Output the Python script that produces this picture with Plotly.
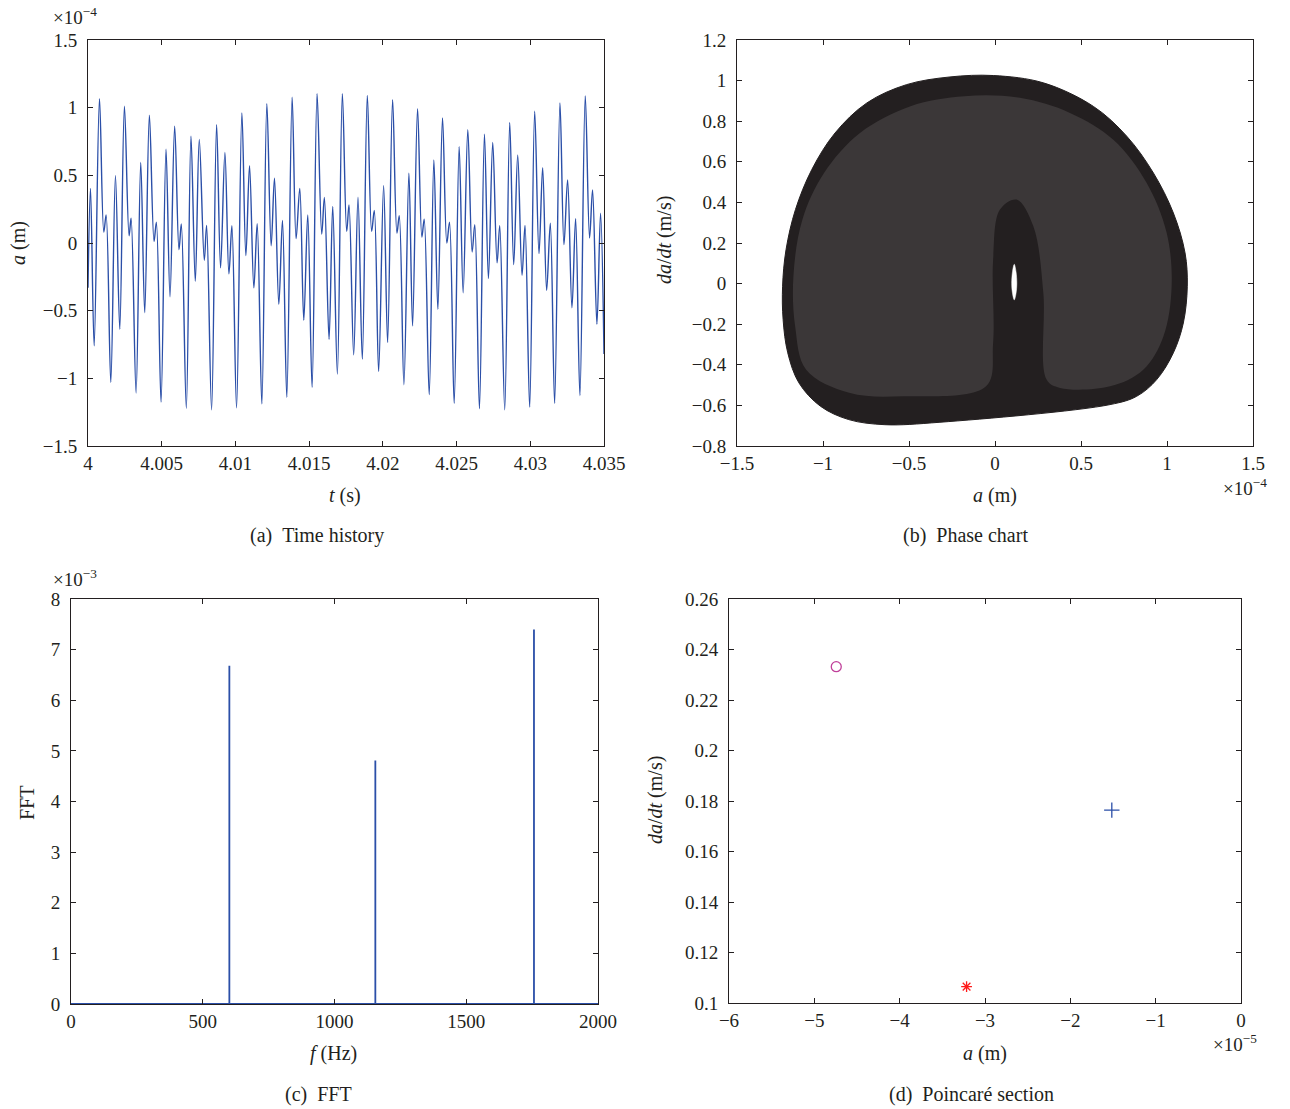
import plotly.graph_objects as go

# ---------------- (a) time history: extrema of a(t), a in units of 1e-4 m ----------------
t_hist = [4.000000, 4.000169, 4.000418, 4.000779, 4.001072, 4.001230, 4.001546, 4.001862,
          4.002155, 4.002471, 4.002787, 4.002923, 4.003261, 4.003577, 4.003848, 4.004164,
          4.004480, 4.004638, 4.004954, 4.005292, 4.005563, 4.005879, 4.006172, 4.006330,
          4.006669, 4.006985, 4.007278, 4.007549, 4.007888, 4.008045, 4.008384, 4.008723,
          4.008993, 4.009287, 4.009558, 4.009761, 4.010077, 4.010438, 4.010709, 4.010957,
          4.011250, 4.011476, 4.011792, 4.012131, 4.012424, 4.012649, 4.012943, 4.013191,
          4.013485, 4.013846, 4.014116, 4.014365, 4.014636, 4.014906, 4.015200, 4.015538,
          4.015854, 4.016035, 4.016351, 4.016599, 4.016915, 4.017253, 4.017547, 4.017705,
          4.018021, 4.018314, 4.018607, 4.018946, 4.019240, 4.019420, 4.019713, 4.020052,
          4.020323, 4.020661, 4.020955, 4.021113, 4.021429, 4.021767, 4.022016, 4.022354,
          4.022647, 4.022805, 4.023144, 4.023460, 4.023731, 4.024047, 4.024340, 4.024521,
          4.024837, 4.025175, 4.025446, 4.025762, 4.026055, 4.026236, 4.026552, 4.026890,
          4.027161, 4.027454, 4.027748, 4.027928, 4.028267, 4.028605, 4.028876, 4.029147,
          4.029440, 4.029643, 4.029959, 4.030298, 4.030591, 4.030839, 4.031110, 4.031359,
          4.031652, 4.032013, 4.032284, 4.032532, 4.032826, 4.033074, 4.033367, 4.033729,
          4.034022, 4.034225, 4.034519, 4.034767, 4.035000]
a_hist = [-0.330, 0.404, -0.760, 1.066, 0.081, 0.208, -1.029, 0.498,
          -0.637, 1.010, 0.054, 0.184, -1.108, 0.596, -0.515, 0.944,
          0.012, 0.154, -1.176, 0.694, -0.397, 0.863, -0.049, 0.140,
          -1.221, 0.789, -0.282, 0.765, -0.127, 0.130, -1.233, 0.875,
          -0.184, 0.669, -0.228, 0.127, -1.218, 0.961, -0.093, 0.571,
          -0.331, 0.142, -1.189, 1.029, -0.020, 0.478, -0.453, 0.167,
          -1.140, 1.078, 0.032, 0.404, -0.571, 0.208, -1.066, 1.103,
          0.066, 0.336, -0.711, 0.270, -0.968, 1.103, 0.086, 0.282,
          -0.826, 0.338, -0.858, 1.091, 0.086, 0.240, -0.949, 0.424,
          -0.735, 1.059, 0.074, 0.201, -1.047, 0.515, -0.613, 0.993,
          0.044, 0.176, -1.120, 0.613, -0.490, 0.924, 0.000, 0.154,
          -1.184, 0.711, -0.368, 0.838, -0.066, 0.135, -1.225, 0.804,
          -0.262, 0.743, -0.147, 0.127, -1.233, 0.890, -0.159, 0.650,
          -0.238, 0.130, -1.213, 0.973, -0.078, 0.556, -0.350, 0.147,
          -1.184, 1.034, -0.012, 0.466, -0.478, 0.179, -1.127, 1.086,
          0.037, 0.392, -0.600, 0.221, -0.821]

# ---------------- (b) phase chart: envelope of the trajectory band (a in 1e-4 m, v in m/s) ----------------
phase_outer_a = [-0.010, 0.281, 0.572, 0.766, 0.921, 1.037, 1.105, 1.118, 1.095, 1.037,
                 0.940, 0.824, 0.669, -0.320, -0.640, -0.850, -1.015, -1.140, -1.205,
                 -1.232, -1.235, -1.215, -1.160, -1.065, -0.930, -0.745, -0.515, -0.262]
phase_outer_v = [1.025, 0.989, 0.873, 0.726, 0.545, 0.348, 0.151, -0.013, -0.194, -0.341,
                 -0.473, -0.555, -0.596, -0.683, -0.695, -0.670, -0.604, -0.489, -0.341,
                 -0.177, -0.013, 0.167, 0.365, 0.562, 0.742, 0.890, 0.980, 1.018]
# region where the individual loops are resolved (lighter, striped in print)
phase_loops_a = [-1.098, -1.162, -1.172, -1.120, -0.994, -0.785, -0.491, -0.178, 0.145, 0.436,
                 0.688, 0.882, 0.998, 1.027, 0.979, 0.862, 0.669, 0.378, 0.300, 0.281,
                 0.223, 0.126, 0.029, -0.011, -0.011, -0.052, -0.534, -0.848]
phase_loops_v = [-0.424, -0.210, 0.036, 0.315, 0.545, 0.742, 0.874, 0.923, 0.915, 0.841,
                 0.709, 0.496, 0.250, -0.013, -0.260, -0.424, -0.506, -0.514, -0.473, -0.046,
                 0.282, 0.414, 0.365, 0.118, -0.292, -0.506, -0.555, -0.538]
phase_hole_a = [0.112, 0.122, 0.127, 0.122, 0.112, 0.102, 0.097, 0.102]
phase_hole_v = [0.095, 0.060, 0.000, -0.050, -0.080, -0.050, 0.000, 0.060]

# ---------------- (c) FFT peaks ----------------
fft_freq = [601, 1155, 1757]
fft_amp = [6.68, 4.81, 7.40]          # units of 1e-3
fft_fmax = 2000

# ---------------- (d) Poincaré section points ----------------
poin_a = [-4.743, -3.216, -1.514]      # units of 1e-5 m
poin_v = [0.2332, 0.1065, 0.1764]

INK = "#231f20"
LOOPS = "#3b3738"
BLUE = "#2b4fa8"
FONT = "Liberation Serif"
W, H = 1290, 1109


def px(x):
    return x / W


def py(y):
    return 1 - y / H


fig = go.Figure()

fig.add_trace(go.Scatter(x=t_hist, y=a_hist, mode="lines", line=dict(color=BLUE, width=1.4, shape="spline"),
                         xaxis="x", yaxis="y", showlegend=False))


def closed(xs, ys):
    return xs + xs[:1], ys + ys[:1]


ox, oy = closed(phase_outer_a, phase_outer_v)
fig.add_trace(go.Scatter(x=ox, y=oy, mode="lines", fill="toself", fillcolor=INK,
                         line=dict(color=INK, width=1, shape="spline"),
                         xaxis="x2", yaxis="y2", showlegend=False))
lx, ly = closed(phase_loops_a, phase_loops_v)
fig.add_trace(go.Scatter(x=lx, y=ly, mode="lines", fill="toself", fillcolor=LOOPS,
                         line=dict(color=LOOPS, width=0, shape="spline", smoothing=1.0),
                         xaxis="x2", yaxis="y2", showlegend=False))
hx, hy = closed(phase_hole_a, phase_hole_v)
fig.add_trace(go.Scatter(x=hx, y=hy, mode="lines", fill="toself", fillcolor="white",
                         line=dict(color="white", width=0.5, shape="spline"),
                         xaxis="x2", yaxis="y2", showlegend=False))

# spectrum: zero baseline with a vertical line at every peak
spec_x, spec_y = [0], [0]
for f, amp in zip(fft_freq, fft_amp):
    spec_x += [f, f, f]
    spec_y += [0, amp, 0]
spec_x.append(fft_fmax)
spec_y.append(0)
fig.add_trace(go.Scatter(x=spec_x, y=spec_y, mode="lines", line=dict(color=BLUE, width=1.8),
                         xaxis="x3", yaxis="y3", showlegend=False))

poin_symbols = ["circle-open", "asterisk-open", "cross-thin-open"]
poin_colors = ["#c0409a", "#ff1a1a", BLUE]
poin_sizes = [10, 9, 11]
for a, v, s, c, sz in zip(poin_a, poin_v, poin_symbols, poin_colors, poin_sizes):
    fig.add_trace(go.Scatter(x=[a], y=[v], mode="markers",
                             marker=dict(symbol=s, size=sz, color=c, line=dict(color=c, width=1.3)),
                             xaxis="x4", yaxis="y4", showlegend=False))


def axis(domain, rng, vals, texts, anchor, ylike=False):
    d = dict(domain=domain, range=rng, tickvals=vals, ticktext=texts, anchor=anchor,
             showline=True, linecolor=INK, linewidth=1, mirror="ticks", ticks="inside",
             ticklen=5, tickcolor=INK, showgrid=False, zeroline=False, automargin=False,
             tickfont=dict(family=FONT, size=19, color=INK))
    if ylike:
        d["ticklabelstandoff"] = 6
    return d


def m(v):
    return v.replace("-", "\u2212")


xa_vals = [4, 4.005, 4.01, 4.015, 4.02, 4.025, 4.03, 4.035]
xa_text = ["4", "4.005", "4.01", "4.015", "4.02", "4.025", "4.03", "4.035"]
ya_vals = [-1.5, -1, -0.5, 0, 0.5, 1, 1.5]
ya_text = [m(s) for s in ["-1.5", "-1", "-0.5", "0", "0.5", "1", "1.5"]]
xb_vals = ya_vals
xb_text = ya_text
yb_vals = [-0.8, -0.6, -0.4, -0.2, 0, 0.2, 0.4, 0.6, 0.8, 1, 1.2]
yb_text = [m(s) for s in ["-0.8", "-0.6", "-0.4", "-0.2", "0", "0.2", "0.4", "0.6", "0.8", "1", "1.2"]]
xc_vals = [0, 500, 1000, 1500, 2000]
xc_text = ["0", "500", "1000", "1500", "2000"]
yc_vals = list(range(0, 9))
yc_text = [str(v) for v in yc_vals]
xd_vals = [-6, -5, -4, -3, -2, -1, 0]
xd_text = [m(s) for s in ["-6", "-5", "-4", "-3", "-2", "-1", "0"]]
yd_vals = [0.1, 0.12, 0.14, 0.16, 0.18, 0.2, 0.22, 0.24, 0.26]
yd_text = ["0.1", "0.12", "0.14", "0.16", "0.18", "0.2", "0.22", "0.24", "0.26"]

fig.update_layout(
    width=W, height=H, margin=dict(l=0, r=0, t=0, b=0),
    paper_bgcolor="white", plot_bgcolor="white",
    xaxis=axis([px(88), px(604)], [4, 4.035], xa_vals, xa_text, "y"),
    yaxis=axis([py(446), py(40)], [-1.5, 1.5], ya_vals, ya_text, "x", True),
    xaxis2=axis([px(737), px(1253)], [-1.5, 1.5], xb_vals, xb_text, "y2"),
    yaxis2=axis([py(446), py(40)], [-0.8, 1.2], yb_vals, yb_text, "x2", True),
    xaxis3=axis([px(71), px(598)], [0, 2000], xc_vals, xc_text, "y3"),
    yaxis3=axis([py(1004), py(599)], [0, 8], yc_vals, yc_text, "x3", True),
    xaxis4=axis([px(729), px(1241)], [-6, 0], xd_vals, xd_text, "y4"),
    yaxis4=axis([py(1003), py(599)], [0.1, 0.26], yd_vals, yd_text, "x4", True),
)

ann = []


def label(text, x, y, size=20, angle=0, xanchor="center"):
    ann.append(dict(text=text, x=px(x), y=py(y), xref="paper", yref="paper", showarrow=False,
                    xanchor=xanchor, yanchor="middle", textangle=angle,
                    font=dict(family=FONT, size=size, color=INK)))


# axis titles
label("<i>t</i> (s)", 345, 495)
label("<i>a</i> (m)", 18, 243, angle=-90)
label("<i>a</i> (m)", 995, 495)
label("<i>da</i>/<i>dt</i> (m/s)", 664, 240, angle=-90)
label("<i>f</i> (Hz)", 333, 1053)
label("FFT", 27, 803, angle=-90)
label("<i>a</i> (m)", 985, 1053)
label("<i>da</i>/<i>dt</i> (m/s)", 655, 800, angle=-90)

# exponent multipliers
label("\u00d710<sup>\u22124</sup>", 51, 16, size=19, xanchor="left")
label("\u00d710<sup>\u22124</sup>", 1221, 487, size=19, xanchor="left")
label("\u00d710<sup>\u22123</sup>", 51, 578, size=19, xanchor="left")
label("\u00d710<sup>\u22125</sup>", 1211, 1043, size=19, xanchor="left")

# captions
label("(a)\u2002Time history", 317, 535)
label("(b)\u2002Phase chart", 965, 535)
label("(c)\u2002FFT", 318, 1094)
label("(d)\u2002Poincar\u00e9 section", 971, 1094)

fig.update_layout(annotations=ann)

fig.write_html("out.html")
